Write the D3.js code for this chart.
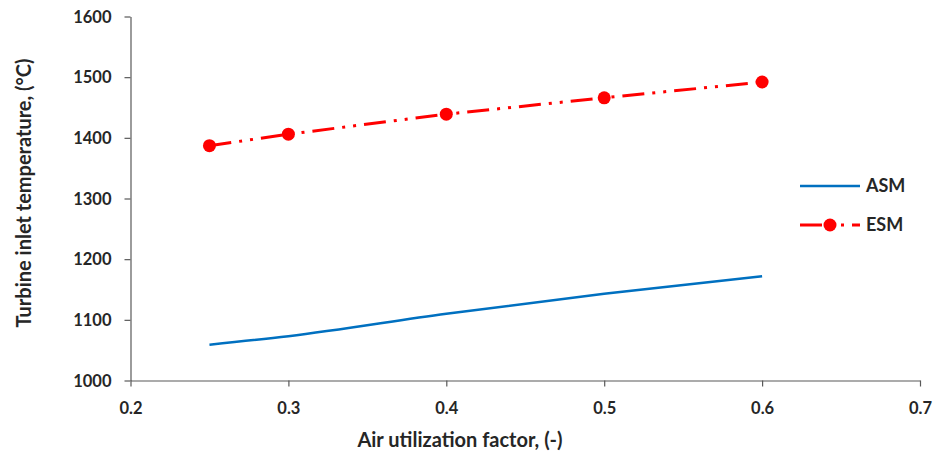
<!DOCTYPE html>
<html>
<head>
<meta charset="utf-8">
<script src="https://cdn.jsdelivr.net/npm/d3@7"></script>
<style>
  html, body { margin: 0; padding: 0; background: #fff; }
  svg { display: block; }
  text { font-family: Lato, "Open Sans", sans-serif; font-weight: bold; fill: #262626; }
</style>
</head>
<body>
<svg id="chart" width="936" height="459"></svg>
<script>
const xValues = [0.25, 0.3, 0.4, 0.5, 0.6];
const asmValues = [1059, 1073, 1110, 1143, 1172];
const esmValues = [1387, 1406, 1439, 1466, 1492];
const xTicks = [0.2, 0.3, 0.4, 0.5, 0.6, 0.7];
const yTicks = [1000, 1100, 1200, 1300, 1400, 1500, 1600];
const seriesNames = ["ASM", "ESM"];

const svg = d3.select("#chart");
const x = d3.scaleLinear().domain([0.2, 0.7]).range([130.5, 920]);
const y = d3.scaleLinear().domain([1000, 1600]).range([380.5, 16.5]);

const axisColor = "#595959";

const xAxis = svg.append("g").attr("transform", "translate(0,380.5)")
  .call(d3.axisBottom(x).tickValues(xTicks).tickFormat(d3.format(".1f")).tickSize(6).tickSizeOuter(0));
const yAxis = svg.append("g").attr("transform", "translate(130.5,0)")
  .call(d3.axisLeft(y).tickValues(yTicks).tickFormat(d3.format("d")).tickSize(6).tickSizeOuter(0));

[xAxis, yAxis].forEach(a => {
  a.selectAll("path, line").attr("stroke", axisColor).attr("stroke-width", 1.2);
  a.selectAll("text").style("font-family", "Lato, sans-serif").style("font-weight", "bold")
    .style("font-size", "16.5px").attr("fill", "#262626");
});
xAxis.selectAll("text").attr("dy", null).attr("y", 33);
yAxis.selectAll("text").attr("x", -19).attr("dy", "0.35em");

const line = d3.line().x((d, i) => x(xValues[i])).y(d => y(d));

svg.append("path").datum(asmValues)
  .attr("d", d3.line().curve(d3.curveMonotoneX).x((d, i) => x(xValues[i])).y(d => y(d)))
  .attr("fill", "none").attr("stroke", "#0070C0").attr("stroke-width", 2.5);

svg.append("path").datum(esmValues)
  .attr("d", line)
  .attr("fill", "none").attr("stroke", "#FF0000").attr("stroke-width", 3)
  .attr("stroke-dasharray", "22,8,3,8,3,8");

svg.selectAll("circle.esm").data(esmValues).enter().append("circle")
  .attr("class", "esm")
  .attr("cx", (d, i) => x(xValues[i])).attr("cy", d => y(d)).attr("r", 6.5)
  .attr("fill", "#FF0000");

// Legend
const leg = svg.append("g");
leg.append("line").attr("x1", 800).attr("x2", 860).attr("y1", 186).attr("y2", 186)
  .attr("stroke", "#0070C0").attr("stroke-width", 2.5);
leg.append("text").attr("x", 866).attr("y", 186).attr("dy", "0.35em")
  .style("font-size", "18px").text(seriesNames[0]);

leg.append("line").attr("x1", 800).attr("x2", 860).attr("y1", 225).attr("y2", 225)
  .attr("stroke", "#FF0000").attr("stroke-width", 3)
  .attr("stroke-dasharray", "22,8,3,8,3,8");
leg.append("circle").attr("cx", 830).attr("cy", 225).attr("r", 6.5).attr("fill", "#FF0000");
leg.append("text").attr("x", 866).attr("y", 225).attr("dy", "0.35em")
  .style("font-size", "18px").text(seriesNames[1]);

// Axis titles
svg.append("text").attr("x", 460).attr("y", 447).attr("text-anchor", "middle")
  .style("font-size", "20px").text("Air utilization factor, (-)");
svg.append("text").attr("transform", "translate(31,193) rotate(-90)").attr("text-anchor", "middle")
  .style("font-size", "20px").text("Turbine inlet temperature, (°C)");
</script>
</body>
</html>
